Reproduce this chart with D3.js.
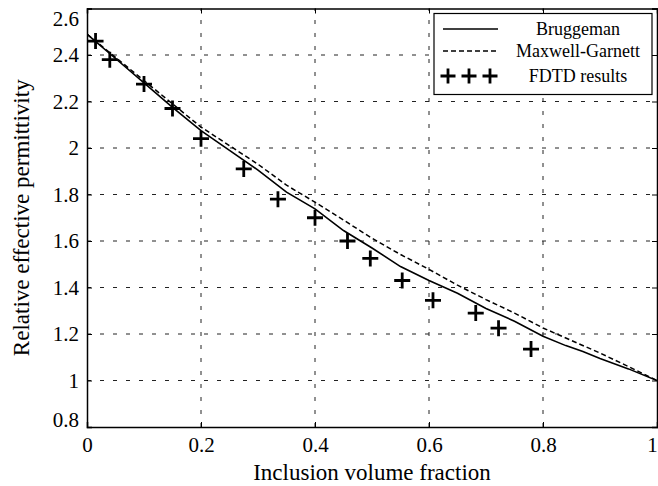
<!DOCTYPE html>
<html>
<head>
<meta charset="utf-8">
<script src="https://cdn.jsdelivr.net/npm/d3@7"></script>
<style>
  html, body { margin: 0; padding: 0; background: #fff; }
  svg { display: block; }
  svg text { font-family: "Liberation Serif", "Times New Roman", Times, "DejaVu Serif", serif; }
</style>
</head>
<body>
<svg id="chart" width="658" height="486"></svg>
<script>
// Theory curves, sampled along the volume fraction
var fraction = [0, 0.05, 0.1, 0.15, 0.2, 0.25, 0.3, 0.35, 0.4, 0.45, 0.5, 0.55, 0.6, 0.65, 0.7, 0.75, 0.8, 0.84, 0.87, 0.9, 0.95, 1];
var bruggeman = [2.49, 2.385, 2.28, 2.175, 2.075, 1.99, 1.905, 1.81, 1.738, 1.645, 1.57, 1.49, 1.43, 1.375, 1.31, 1.255, 1.19, 1.15, 1.125, 1.095, 1.05, 1.0];

var mgFraction = [0, 0.05, 0.1, 0.15, 0.2, 0.25, 0.3, 0.35, 0.4, 0.45, 0.5, 0.55, 0.6, 0.65, 0.7, 0.75, 0.8, 0.85, 0.9, 0.95, 1];
var maxwellGarnett = [2.49, 2.39, 2.29, 2.19, 2.09, 2.01, 1.93, 1.84, 1.767, 1.69, 1.612, 1.542, 1.478, 1.41, 1.348, 1.29, 1.226, 1.172, 1.118, 1.06, 1.0];

// FDTD points
var fdtdFraction = [0.015, 0.04, 0.1, 0.15, 0.2, 0.275, 0.335, 0.4, 0.457, 0.497, 0.553, 0.607, 0.682, 0.722, 0.779];
var fdtdValue = [2.46, 2.38, 2.275, 2.17, 2.04, 1.91, 1.78, 1.70, 1.60, 1.525, 1.43, 1.345, 1.29, 1.225, 1.135];

var xTicks = [0, 0.2, 0.4, 0.6, 0.8, 1];
var yTicks = [0.8, 1, 1.2, 1.4, 1.6, 1.8, 2, 2.2, 2.4, 2.6];

var legendNames = ["Bruggeman", "Maxwell-Garnett", "FDTD results"];

// window.top is read-only, so use plot* names
var plotLeft = 87, plotRight = 657, plotTop = 8.5, plotBottom = 427;

var svg = d3.select("#chart");

var x = d3.scaleLinear().domain([0, 1]).range([plotLeft, plotRight]);
var y = d3.scaleLinear().domain([0.8, 2.6]).range([plotBottom, plotTop]);

// Dotted grid
var grid = svg.append("g")
  .attr("stroke", "#222")
  .attr("stroke-width", 1)
  .attr("stroke-dasharray", "4,9");

grid.selectAll("line.v")
  .data(xTicks.slice(1, -1))
  .enter()
  .append("line")
  .attr("x1", function (d) { return x(d); })
  .attr("x2", function (d) { return x(d); })
  .attr("y1", plotBottom)
  .attr("y2", plotTop);

grid.selectAll("line.h")
  .data(yTicks.slice(1, -1))
  .enter()
  .append("line")
  .attr("x1", plotLeft)
  .attr("x2", plotRight)
  .attr("y1", function (d) { return y(d); })
  .attr("y2", function (d) { return y(d); });

// Axes with inner ticks on all four sides
var axisBottom = d3.axisBottom(x).tickValues(xTicks).tickSize(-5).tickPadding(10).tickFormat(d3.format("~g"));
var axisTop = d3.axisTop(x).tickValues(xTicks).tickSize(-5).tickFormat("");
var axisLeft = d3.axisLeft(y).tickValues(yTicks).tickSize(-5).tickPadding(8).tickFormat(d3.format("~g"));
var axisRight = d3.axisRight(y).tickValues(yTicks).tickSize(-5).tickFormat("");

function styleAxis(g) {
  g.attr("font-family", null);
  g.select(".domain").attr("stroke", "#000").attr("stroke-width", 1.5);
  g.selectAll(".tick line").attr("stroke", "#000").attr("stroke-width", 1);
  g.selectAll("text")
    .attr("fill", "#000")
    .attr("font-size", "21px");
}

var gx = svg.append("g").attr("transform", "translate(0," + plotBottom + ")").call(axisBottom).call(styleAxis);
svg.append("g").attr("transform", "translate(0," + plotTop + ")").call(axisTop).call(styleAxis);
var gy = svg.append("g").attr("transform", "translate(" + plotLeft + ",0)").call(axisLeft).call(styleAxis);
svg.append("g").attr("transform", "translate(" + plotRight + ",0)").call(axisRight).call(styleAxis);

// keep end labels inside the frame like the original export
gy.selectAll(".tick text")
  .attr("y", function (d) {
    var p = y(d);
    return Math.min(Math.max(p, plotTop + 10), plotBottom - 7) - p;
  });
gx.selectAll(".tick text")
  .attr("x", function (d) {
    var p = x(d);
    return Math.min(p, 652) - p;
  });

// Clip the curves to the plot box
svg.append("clipPath").attr("id", "plotclip")
  .append("rect")
  .attr("x", plotLeft).attr("y", plotTop)
  .attr("width", plotRight - plotLeft).attr("height", plotBottom - plotTop);

var line = d3.line()
  .x(function (d) { return x(d[0]); })
  .y(function (d) { return y(d[1]); });

var plot = svg.append("g").attr("clip-path", "url(#plotclip)");

plot.append("path")
  .datum(d3.zip(mgFraction, maxwellGarnett))
  .attr("d", line)
  .attr("fill", "none")
  .attr("stroke", "#000")
  .attr("stroke-width", 1.5)
  .attr("stroke-dasharray", "5,3");

plot.append("path")
  .datum(d3.zip(fraction, bruggeman))
  .attr("d", line)
  .attr("fill", "none")
  .attr("stroke", "#000")
  .attr("stroke-width", 1.6);

// Plus markers
function plus(sel, size) {
  var h = size / 2;
  sel.attr("d", "M" + (-h) + ",0H" + h + "M0," + (-h) + "V" + h)
    .attr("stroke", "#000")
    .attr("stroke-width", 2.8)
    .attr("fill", "none");
}

svg.append("g")
  .selectAll("path")
  .data(d3.zip(fdtdFraction, fdtdValue))
  .enter()
  .append("path")
  .attr("transform", function (d) { return "translate(" + x(d[0]) + "," + y(d[1]) + ")"; })
  .call(plus, 16);

// Legend
var legend = svg.append("g");
legend.append("rect")
  .attr("x", 434).attr("y", 13.5)
  .attr("width", 218).attr("height", 81)
  .attr("fill", "#fff")
  .attr("stroke", "#000")
  .attr("stroke-width", 1.2);

var rowY = [29, 51, 76];

legend.append("line")
  .attr("x1", 443).attr("x2", 498)
  .attr("y1", rowY[0]).attr("y2", rowY[0])
  .attr("stroke", "#000").attr("stroke-width", 1.6);

legend.append("line")
  .attr("x1", 443).attr("x2", 498)
  .attr("y1", rowY[1]).attr("y2", rowY[1])
  .attr("stroke", "#000").attr("stroke-width", 1.5)
  .attr("stroke-dasharray", "5,3");

legend.selectAll("path.mk")
  .data([448, 469, 490])
  .enter()
  .append("path")
  .attr("transform", function (d) { return "translate(" + d + "," + rowY[2] + ")"; })
  .call(plus, 15);

legend.selectAll("text")
  .data(legendNames)
  .enter()
  .append("text")
  .attr("x", 578)
  .attr("y", function (d, i) { return rowY[i] + 6; })
  .attr("text-anchor", "middle")
  .attr("font-size", "18px")
  .attr("fill", "#000")
  .text(function (d) { return d; });

// Axis titles
svg.append("text")
  .attr("x", (plotLeft + plotRight) / 2)
  .attr("y", 480)
  .attr("text-anchor", "middle")
  .attr("font-size", "23px")
  .attr("fill", "#000")
  .text("Inclusion volume fraction");

svg.append("text")
  .attr("transform", "translate(29," + (plotTop + plotBottom) / 2 + ") rotate(-90)")
  .attr("text-anchor", "middle")
  .attr("font-size", "23px")
  .attr("fill", "#000")
  .text("Relative effective permittivity");
</script>
</body>
</html>
